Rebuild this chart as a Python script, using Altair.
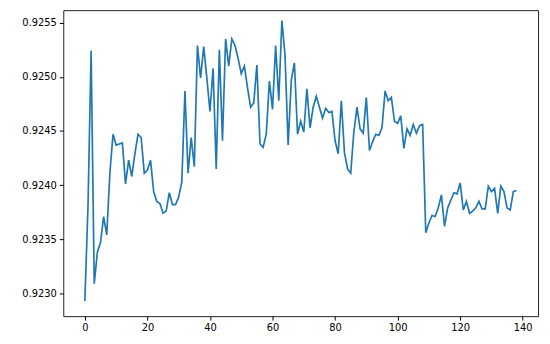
import altair as alt
import pandas as pd

values = [
    0.92293, 0.92380, 0.92524, 0.92309, 0.92338, 0.92347, 0.92371, 0.92354, 0.92411, 0.92447,
    0.92437, 0.92438, 0.92439, 0.92401, 0.92423, 0.92408, 0.92429, 0.92447, 0.92444, 0.92411,
    0.92414, 0.92423, 0.92394, 0.92385, 0.92383, 0.92374, 0.92376, 0.92393, 0.92382, 0.92382,
    0.92389, 0.92403, 0.92487, 0.92411, 0.92444, 0.92417, 0.92529, 0.92499, 0.92528, 0.92499,
    0.92468, 0.92508, 0.92415, 0.92525, 0.92441, 0.92535, 0.92510, 0.92535, 0.92529, 0.92517,
    0.92503, 0.92510, 0.92490, 0.92472, 0.92476, 0.92511, 0.92438, 0.92435, 0.92447, 0.92496,
    0.92470, 0.92529, 0.92478, 0.92552, 0.92520, 0.92437, 0.92497, 0.92513, 0.92447, 0.92459,
    0.92449, 0.92489, 0.92453, 0.92472, 0.92482, 0.92472, 0.92462, 0.92471, 0.92467, 0.92468,
    0.92441, 0.92429, 0.92478, 0.92430, 0.92415, 0.92411, 0.92449, 0.92472, 0.92452, 0.92448,
    0.92481, 0.92432, 0.92440, 0.92447, 0.92446, 0.92453, 0.92487, 0.92478, 0.92481, 0.92459,
    0.92457, 0.92464, 0.92434, 0.92452, 0.92446, 0.92456, 0.92448, 0.92455, 0.92456, 0.92356,
    0.92365, 0.92372, 0.92371, 0.92379, 0.92391, 0.92362, 0.92379, 0.92386, 0.92393, 0.92392,
    0.92402, 0.92377, 0.92385, 0.92374, 0.92376, 0.92379, 0.92385, 0.92378, 0.92378, 0.92399,
    0.92394, 0.92397, 0.92374, 0.92399, 0.92394, 0.92379, 0.92377, 0.92394, 0.92395,
]
index = list(range(len(values)))

x_ticks = [0, 20, 40, 60, 80, 100, 120, 140]
y_ticks = [0.9230, 0.9235, 0.9240, 0.9245, 0.9250, 0.9255]

df = pd.DataFrame({"i": index, "v": values})

font = "DejaVu Sans"

chart = (
    alt.Chart(df)
    .mark_line(color="#1f77b4", strokeWidth=1.7)
    .encode(
        x=alt.X(
            "i:Q",
            scale=alt.Scale(domain=[-6.9, 144.9], nice=False, zero=False),
            axis=alt.Axis(values=x_ticks, title=None, grid=False, domain=False,
                          tickColor="black", tickSize=4, tickWidth=1,
                          labelPadding=3, labelFont=font, labelFontSize=10,
                          labelColor="black", format="d"),
        ),
        y=alt.Y(
            "v:Q",
            scale=alt.Scale(domain=[0.92279, 0.925616], nice=False, zero=False),
            axis=alt.Axis(values=y_ticks, title=None, grid=False, domain=False,
                          tickColor="black", tickSize=4, tickWidth=1,
                          labelPadding=3, labelFont=font, labelFontSize=10,
                          labelColor="black", format=".4f"),
        ),
    )
    .properties(
        width=481,
        height=310,
        autosize=alt.AutoSizeParams(type="none"),
        padding={"left": 56, "top": 0, "right": 4, "bottom": 24},
    )
    .configure(background="white")
    .configure_view(stroke="#222222", strokeWidth=1)
)

chart.save("out.html", embed_options={"renderer": "svg", "actions": False})
